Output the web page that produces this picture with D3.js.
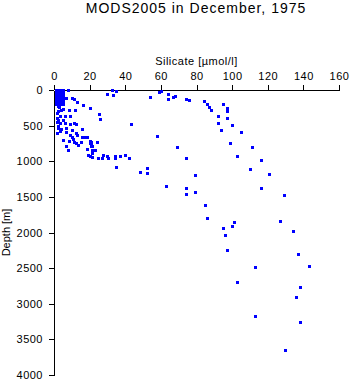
<!DOCTYPE html>
<html><head><meta charset="utf-8">
<script src="https://cdn.jsdelivr.net/npm/d3@7"></script>
<style>
html,body{margin:0;padding:0;background:#fff;}
svg{display:block;}
text{font-family:Arial,"Liberation Sans",Helvetica,sans-serif;fill:#000;}
</style></head>
<body>
<script>
const title = "MODS2005 in December, 1975";
const xLabel = "Silicate [\u00b5mol/l]";
const yLabel = "Depth [m]";
const xTicks = [0, 20, 40, 60, 80, 100, 120, 140, 160];
const yTicks = [0, 500, 1000, 1500, 2000, 2500, 3000, 3500, 4000];

// dense near-surface block (low silicate)
const surfSilicate = [
 1,2,3,4,5, 1,2,3,4,5, 1,2,3,4,5, 1,2,3,4,5, 1,2,3,4,5, 1,2,3,4,5,
 1,2,3,4,5, 1,2,3,4,5, 1,2,3,4,5, 1,2,3,4,5, 1,2,3,4,5];
const surfDepth = [
 0,0,0,0,0, 10,10,10,10,10, 20,20,20,20,20, 30,30,30,30,30, 50,50,50,50,50, 75,75,75,75,75,
 100,100,100,100,100, 125,125,125,125,125, 150,150,150,150,150, 175,175,175,175,175, 200,200,200,200,200];

// remaining observations
const silicate = [
 8,7,10,11.5,13,5,16.5,20,4,5,8.5,12,25.5,26,1.5,3.5,6,9,2.5,5,1.5,3.5,6,9,11,12.5,43.5,
 2.5,4,7,10,3.5,6.5,12.5,9,15.5,13,5,10,10.5,15.5,17.5,18.5,8.5,11,12.5,15,21,24,6.5,13.5,
 20.5,21.5,8,18.5,21.5,23,21.5,19,20,21.5,24.5,27,27.5,29.5,30.5,34,34.5,37,40,42,35,48,52,52,
 20,20,21,2,3,1.5,2,1.5,2.5,
 32.5,30,33,35,54,60,59,64,64,67,68,74,76,84,86,87,88,95,97,97,92,92,97,100,94,105,58,99,69,111,
 103,74,116,110,79,120.5,63,74,116,79,74,129,85,86,101,127,95,100,96,134,97,137,113,143,103,138,
 136,113,138,129.5];
const depth = [
 5,115,110,130,170,175,210,250,275,265,285,280,330,405,320,360,370,370,415,425,450,470,460,475,460,475,480,
 530,545,530,555,580,590,610,635,545,635,695,660,685,660,665,665,720,735,740,735,735,730,780,765,
 775,790,845,825,845,845,880,910,930,940,960,960,915,920,960,920,955,925,915,960,1075,1145,1090,1160,
 720,740,780,220,240,390,500,600,300,
 5,50,75,20,100,10,30,55,120,100,80,125,145,155,190,240,280,200,250,300,370,460,390,495,555,595,640,740,800,800,
 920,950,985,1105,1195,1180,1350,1370,1380,1435,1455,1480,1610,1800,1850,1840,1930,1915,2030,1975,2250,2305,2480,2465,2700,2770,
 2900,3175,3255,3645];

const W = 351, H = 384;
const svg = d3.select("body").append("svg").attr("width", W).attr("height", H);

const x = d3.scaleLinear().domain([0, 160]).range([54, 339]);
const y = d3.scaleLinear().domain([0, 4000]).range([90, 375]);

svg.append("text").attr("x", 196).attr("y", 12.5).attr("text-anchor", "middle")
  .style("font-size", "14px").style("letter-spacing", "1px").text(title);

const xAxis = svg.append("g").attr("transform", "translate(0,90)")
  .call(d3.axisTop(x).tickValues(xTicks).tickFormat(d3.format("d")).tickSize(5).tickSizeOuter(0).tickPadding(5));
const yAxis = svg.append("g").attr("transform", "translate(54,0)")
  .call(d3.axisLeft(y).tickValues(yTicks).tickFormat(d3.format("d")).tickSize(5).tickSizeOuter(0).tickPadding(6));
[xAxis, yAxis].forEach(g => {
  g.selectAll("text").style("font-size", "11px").style("letter-spacing", "0.5px")
   .style("font-family", "Arial, 'Liberation Sans', sans-serif").attr("fill", "#000");
  g.selectAll("path,line").attr("stroke", "#000").attr("shape-rendering", "crispEdges");
});

svg.append("text").attr("x", 196.5).attr("y", 64.5).attr("text-anchor", "middle")
  .style("font-size", "11px").style("letter-spacing", "0.5px").text(xLabel);
svg.append("text").attr("transform", "translate(10,232.5) rotate(-90)").attr("text-anchor", "middle")
  .style("font-size", "11px").text(yLabel);

const pts = surfSilicate.map((s, i) => [s, surfDepth[i]])
  .concat(silicate.map((s, i) => [s, depth[i]]));

svg.append("g").selectAll("rect").data(pts).join("rect")
  .attr("x", d => Math.round(x(d[0])) - 1)
  .attr("y", d => Math.round(y(d[1])) - 1)
  .attr("width", 3).attr("height", 3)
  .attr("fill", "#0000ff").attr("shape-rendering", "crispEdges");
</script>
</body></html>
